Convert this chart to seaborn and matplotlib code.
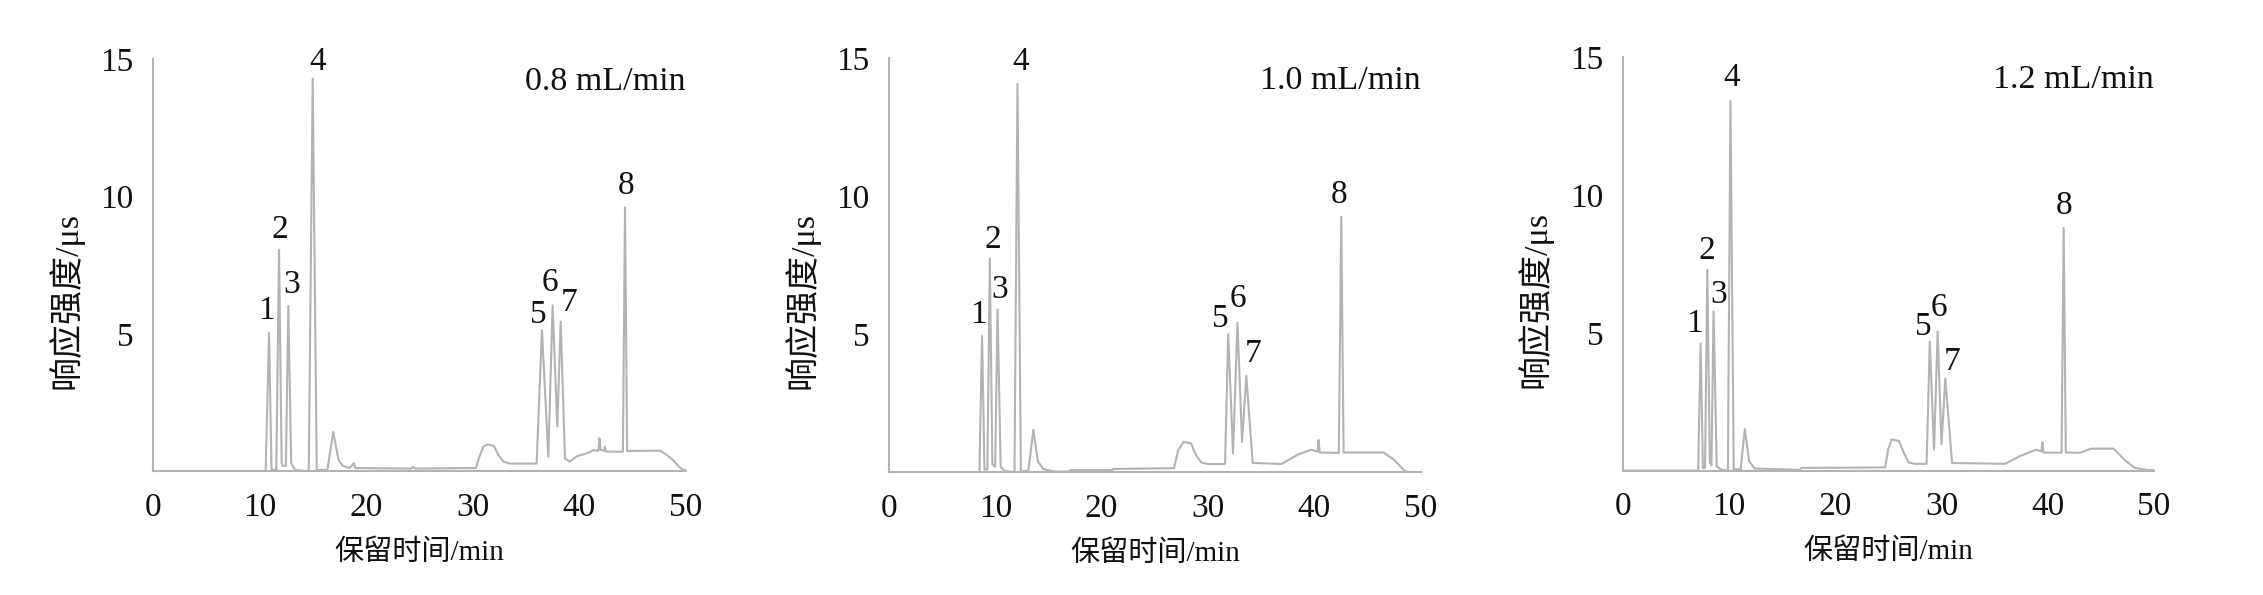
import matplotlib
matplotlib.use("Agg")
import matplotlib.pyplot as plt
import seaborn as sns
import pandas as pd

sns.set_theme(style="white")
plt.rcParams['font.family'] = ['Liberation Serif', 'Noto Sans CJK SC']
plt.rcParams['axes.unicode_minus'] = False

# ---------------- data ----------------
flow_labels = ["0.8 mL/min", "1.0 mL/min", "1.2 mL/min"]
peak_names = ["1", "2", "3", "4", "5", "6", "7", "8"]
x_ticks = [0, 10, 20, 30, 40, 50]
y_ticks = [5, 10, 15]
x_label = "保留时间/min"
y_label = "响应强度/μs"

time_08 = [0, 10.55, 10.87, 11.1, 11.15, 11.55, 11.81, 12.05, 12.15, 12.45, 12.68, 12.95, 13.3,
           14.6, 14.97, 15.35, 16.35, 16.9, 17.4, 17.8, 18.4, 18.85, 18.95, 24.2, 24.4, 24.6,
           30.3, 30.6, 31.0, 31.4, 32.0, 32.4, 32.9, 33.5, 36.0, 36.5, 37.1, 37.5, 37.94, 38.26,
           38.66, 39.1, 39.8, 40.9, 41.3, 41.8, 41.9, 42.0, 42.35, 42.4, 42.5, 44.1, 44.3, 44.5,
           47.6, 48.2, 48.8, 49.4, 49.8, 50]
signal_08 = [0, 0, 5.05, 0.1, 0.05, 0.05, 8.06, 0.3, 0.2, 0.2, 6.02, 0.3, 0.05,
             0.0, 14.3, 0.05, 0.05, 1.44, 0.4, 0.2, 0.12, 0.29, 0.12, 0.1, 0.16, 0.1,
             0.12, 0.5, 0.9, 0.98, 0.92, 0.6, 0.35, 0.28, 0.28, 5.14, 0.53, 6.04, 1.63, 5.45,
             0.47, 0.35, 0.55, 0.68, 0.77, 0.75, 1.2, 0.78, 0.75, 0.9, 0.72, 0.71, 9.61, 0.74,
             0.75, 0.6, 0.41, 0.15, 0.05, 0.05]

time_10 = [0, 8.5, 8.75, 8.98, 9.25, 9.48, 9.72, 9.98, 10.21, 10.5, 10.9, 11.8, 12.08, 12.4,
           13.1, 13.58, 14.0, 14.5, 15.5, 17.0, 17.05, 21.0, 21.05, 26.8, 27.2, 27.7, 28.4,
           28.9, 29.4, 30.0, 31.6, 31.9, 32.35, 32.77, 33.2, 33.6, 34.2, 36.9, 38.5, 39.7,
           40.3, 40.4, 40.5, 42.3, 42.53, 42.75, 46.5, 47.5, 48.5, 49.0, 50]
signal_10 = [0, 0, 4.94, 0.1, 0.1, 7.75, 0.3, 0.2, 5.9, 0.2, 0.05, 0.0, 14.07, 0.05,
             0.05, 1.54, 0.4, 0.12, 0.03, 0.03, 0.08, 0.08, 0.12, 0.15, 0.8, 1.1, 1.05,
             0.6, 0.35, 0.3, 0.3, 5.0, 0.69, 5.42, 1.1, 3.5, 0.34, 0.3, 0.65, 0.82,
             0.75, 1.17, 0.72, 0.7, 9.26, 0.72, 0.72, 0.45, 0.05, 0.0, 0.0]

time_12 = [0, 7.1, 7.33, 7.55, 7.75, 7.96, 8.2, 8.35, 8.55, 8.85, 9.3, 9.9, 10.14, 10.45,
           11.1, 11.49, 11.9, 12.4, 16.7, 16.8, 24.7, 25.0, 25.3, 26.0, 26.4, 26.9, 27.5,
           28.6, 28.9, 29.3, 29.64, 30.0, 30.36, 31.0, 36.0, 37.5, 38.9, 39.4, 39.5, 39.6,
           41.3, 41.5, 41.7, 43.0, 44.1, 46.2, 47.2, 48.2, 49.5, 50]
signal_12 = [0, 0, 4.61, 0.1, 0.1, 7.29, 0.3, 0.2, 5.78, 0.15, 0.03, 0.0, 13.42, 0.05,
             0.05, 1.51, 0.35, 0.08, 0.03, 0.1, 0.12, 0.8, 1.13, 1.08, 0.7, 0.3, 0.25,
             0.25, 4.68, 0.76, 5.05, 0.96, 3.34, 0.28, 0.25, 0.55, 0.76, 0.7, 1.03, 0.66,
             0.65, 8.81, 0.66, 0.65, 0.8, 0.8, 0.4, 0.1, 0.02, 0.02]

apex_time_08 = [10.87, 11.81, 12.68, 14.97, 36.5, 37.5, 38.26, 44.3]
apex_height_08 = [5.05, 8.06, 6.02, 14.3, 5.14, 6.04, 5.45, 9.61]
apex_time_10 = [8.75, 9.48, 10.21, 12.08, 31.9, 32.77, 33.6, 42.53]
apex_height_10 = [4.94, 7.75, 5.9, 14.07, 5.0, 5.42, 3.5, 9.26]
apex_time_12 = [7.33, 7.96, 8.55, 10.14, 28.9, 29.64, 30.36, 41.5]
apex_height_12 = [4.61, 7.29, 5.78, 13.42, 4.68, 5.05, 3.34, 8.81]

# ---------------- layout / style ----------------
W, H = 2263, 595
axes_px = [(153.3, 685.7, 59.3, 471.3),
           (889.0, 1420.7, 58.3, 472.3),
           (1622.7, 2154.0, 57.3, 470.7)]
# label offsets (minutes, signal units) relative to apex
label_off = [
    [(-0.22, 0.8), (0.09, 0.75), (0.3, 0.78), (0.46, 0.62), (-0.3, 0.55), (-0.24, 0.82), (0.75, 0.7), (0.07, 0.78)],
    [(-0.35, 0.78), (0.3, 0.66), (0.22, 0.7), (0.32, 0.82), (-0.72, 0.55), (0.05, 0.85), (0.62, 0.78), (-0.2, 0.78)],
    [(-0.56, 0.74), (-0.05, 0.7), (0.52, 0.62), (0.14, 0.85), (-0.65, 0.55), (0.1, 0.88), (0.66, 0.6), (0.05, 0.8)],
]
line_color = "#b3b3b3"
text_color = "#111111"

panels = [
    (time_08, signal_08, apex_time_08, apex_height_08),
    (time_10, signal_10, apex_time_10, apex_height_10),
    (time_12, signal_12, apex_time_12, apex_height_12),
]

fig = plt.figure(figsize=(W / 100, H / 100), dpi=100)
fig.patch.set_facecolor("white")

for i, (t, s, at, ah) in enumerate(panels):
    l, r, top, bot = axes_px[i]
    ax = fig.add_axes([l / W, (H - bot) / H, (r - l) / W, (bot - top) / H])
    df = pd.DataFrame({"time": t, "signal": s})
    sns.lineplot(data=df, x="time", y="signal", ax=ax, estimator=None, sort=False,
                 color=line_color, linewidth=1.5)
    ax.set_xlim(0, 50)
    ax.set_ylim(0, 15)
    ax.set_xticks(x_ticks)
    ax.set_yticks(y_ticks)
    ax.set_xticklabels([str(v) for v in x_ticks])
    ax.set_yticklabels([str(v) for v in y_ticks])
    for side in ["top", "right"]:
        ax.spines[side].set_visible(False)
    for side in ["left", "bottom"]:
        ax.spines[side].set_color(line_color)
        ax.spines[side].set_linewidth(1.5)
    ax.tick_params(axis="x", direction="in", length=8.5, width=1.3, color=line_color,
                   labelsize=24, labelcolor=text_color, pad=15)
    ax.tick_params(axis="y", direction="in", length=7, width=1.3, color=line_color,
                   labelsize=24, labelcolor=text_color, pad=14)
    ax.set_xlabel(x_label, fontsize=21, color=text_color)
    ax.set_ylabel(y_label, fontsize=24.5, color=text_color)
    ax.xaxis.set_label_coords(0.5, -0.197)
    ax.yaxis.set_label_coords(-0.165, 0.415)
    ax.xaxis.label.set_va("center")
    ax.yaxis.label.set_va("center")
    ax.set_facecolor("white")
    ax.grid(False)
    for k, name in enumerate(peak_names):
        dx, dy = label_off[i][k]
        ax.text(at[k] + dx, ah[k] + dy, name, fontsize=24, color=text_color,
                ha="center", va="center")
    ax.text(50, 14.2, flow_labels[i], fontsize=24.5, color=text_color, ha="right", va="center")

fig.savefig("out.png", dpi=100, facecolor="white")
